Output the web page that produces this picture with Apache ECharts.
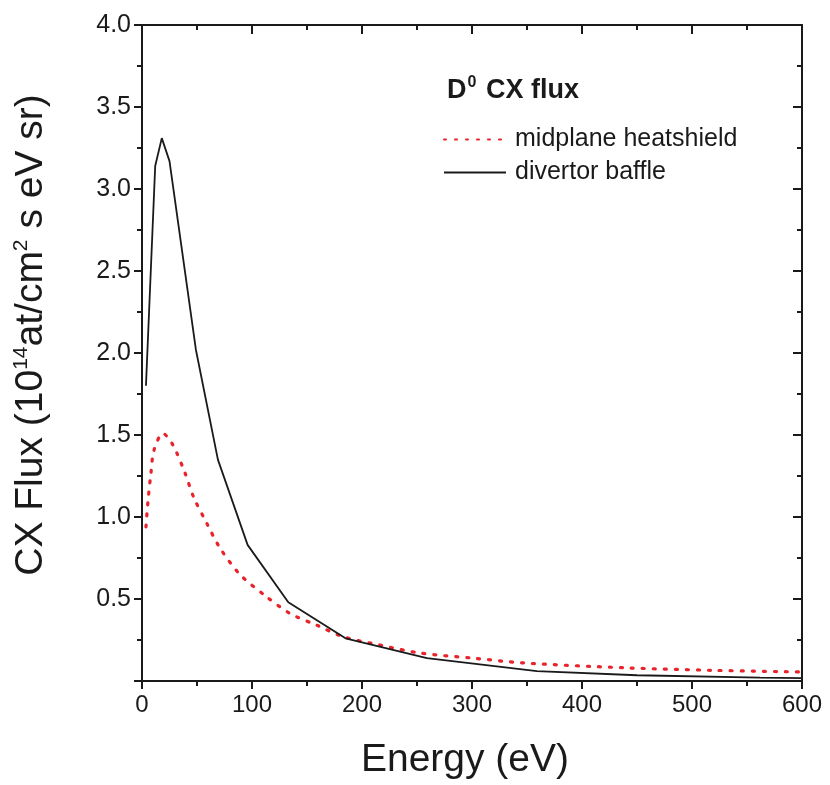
<!DOCTYPE html>
<html>
<head>
<meta charset="utf-8">
<script src="https://cdn.jsdelivr.net/npm/echarts@6/dist/echarts.min.js"></script>
<style>
html, body { margin: 0; padding: 0; background: #fff; }
#main { width: 830px; height: 785px; }
</style>
</head>
<body>
<div id="main"></div>
<script>
// divertor baffle (black solid), [energy eV, flux]
var baffle = [
    [3.6, 1.80], [12, 3.14], [18, 3.31], [25, 3.17], [49, 2.02], [69, 1.35],
    [96, 0.83], [133, 0.48], [185, 0.26], [259, 0.14], [359, 0.06],
    [450, 0.035], [562, 0.02], [600, 0.018]
];
// midplane heatshield (red dotted)
var heatshield = [
    [3.6, 0.94], [5.5, 1.10], [8, 1.26], [11, 1.41], [19, 1.51], [28, 1.44],
    [39, 1.27], [47, 1.12], [59, 0.96], [71, 0.81], [89, 0.65], [112, 0.52],
    [135, 0.41], [159, 0.34], [183, 0.27], [216, 0.22], [253, 0.17],
    [300, 0.14], [347, 0.11], [441, 0.08], [519, 0.065], [600, 0.055]
];
var xTicks = [0, 100, 200, 300, 400, 500, 600];
var yTicks = ['0.5', '1.0', '1.5', '2.0', '2.5', '3.0', '3.5', '4.0'];

var font = 'Liberation Sans';
var ink = '#1a1a1a';
var chart = echarts.init(document.getElementById('main'));

// frame axes (top / right): ticks inward, no labels
function frameAxis(pos, max, interval) {
    return {
        type: 'value',
        position: pos,
        min: 0, max: max, interval: interval,
        axisLine: { show: true, onZero: false, lineStyle: { color: ink, width: 2 } },
        axisTick: { show: true, inside: true, length: 9, lineStyle: { color: ink, width: 2 } },
        minorTick: { show: true, splitNumber: 2, length: 5, lineStyle: { color: ink, width: 2 } },
        axisLabel: { show: false },
        splitLine: { show: false }
    };
}

var option = {
    animation: false,
    backgroundColor: '#fff',
    textStyle: { fontFamily: font },
    grid: { left: 142, right: 28, top: 25, bottom: 101, containLabel: false },
    title: {
        text: '{b|D}{sup|0}{b| CX flux}',
        left: 442,
        top: 70,
        textStyle: {
            rich: {
                b: { fontFamily: font, fontWeight: 'bold', fontSize: 27, color: ink },
                sup: { fontFamily: font, fontWeight: 'bold', fontSize: 16, color: ink, padding: [0, 2, 16, 1] }
            }
        }
    },
    legend: {
        orient: 'vertical',
        left: 438,
        top: 122,
        itemWidth: 62,
        itemHeight: 14,
        itemGap: 8,
        itemStyle: { opacity: 0 },
        textStyle: { fontFamily: font, fontSize: 25, color: ink, padding: [0, 0, 0, 4] },
        data: ['midplane heatshield', 'divertor baffle']
    },
    xAxis: [{
        type: 'value',
        min: 0, max: 600, interval: 100,
        name: 'Energy (eV)',
        nameLocation: 'middle',
        nameGap: 60,
        nameTextStyle: { fontFamily: font, fontSize: 39, color: ink, padding: [0, 14, 0, 0] },
        axisLine: { onZero: false, lineStyle: { color: ink, width: 2 } },
        axisTick: { inside: false, length: 8, lineStyle: { color: ink, width: 2 } },
        minorTick: { show: true, splitNumber: 2, length: 5, lineStyle: { color: ink, width: 2 } },
        axisLabel: {
            fontFamily: font, fontSize: 24, color: ink, margin: 12,
            formatter: function (v) { return xTicks.indexOf(v) >= 0 ? String(v) : ''; }
        },
        splitLine: { show: false }
    }, frameAxis('top', 600, 100)],
    yAxis: [{
        type: 'value',
        min: 0, max: 4, interval: 0.5,
        name: '{t|CX Flux (10}{s|14}{t|at/cm}{s|2}{t| s eV sr)}',
        nameLocation: 'middle',
        nameGap: 91,
        nameTextStyle: {
            padding: [0, 0, 0, 36],
            rich: {
                t: { fontFamily: font, fontSize: 39, color: ink },
                s: { fontFamily: font, fontSize: 21, color: ink, padding: [0, 0, 19, 0] }
            }
        },
        axisLine: { onZero: false, lineStyle: { color: ink, width: 2 } },
        axisTick: { inside: false, length: 8, lineStyle: { color: ink, width: 2 } },
        minorTick: { show: true, splitNumber: 2, length: 5, lineStyle: { color: ink, width: 2 } },
        axisLabel: {
            fontFamily: font, fontSize: 25, color: ink, margin: 11,
            formatter: function (v) {
                var s = v.toFixed(1);
                return yTicks.indexOf(s) >= 0 ? s : '';
            }
        },
        splitLine: { show: false }
    }, frameAxis('right', 4, 0.5)],
    series: [{
        name: 'midplane heatshield',
        type: 'line',
        smooth: 0.3,
        symbol: 'none',
        data: heatshield,
        lineStyle: { color: '#e8232a', width: 3.2, type: [2, 9], cap: 'round' },
        itemStyle: { color: '#e8232a' }
    }, {
        name: 'divertor baffle',
        type: 'line',
        symbol: 'none',
        data: baffle,
        lineStyle: { color: ink, width: 1.8 },
        itemStyle: { color: ink }
    }, {
        // empty series so the frame axes get drawn
        name: 'frame',
        type: 'line',
        xAxisIndex: 1,
        yAxisIndex: 1,
        symbol: 'none',
        data: [],
        silent: true
    }]
};
chart.setOption(option);
</script>
</body>
</html>
